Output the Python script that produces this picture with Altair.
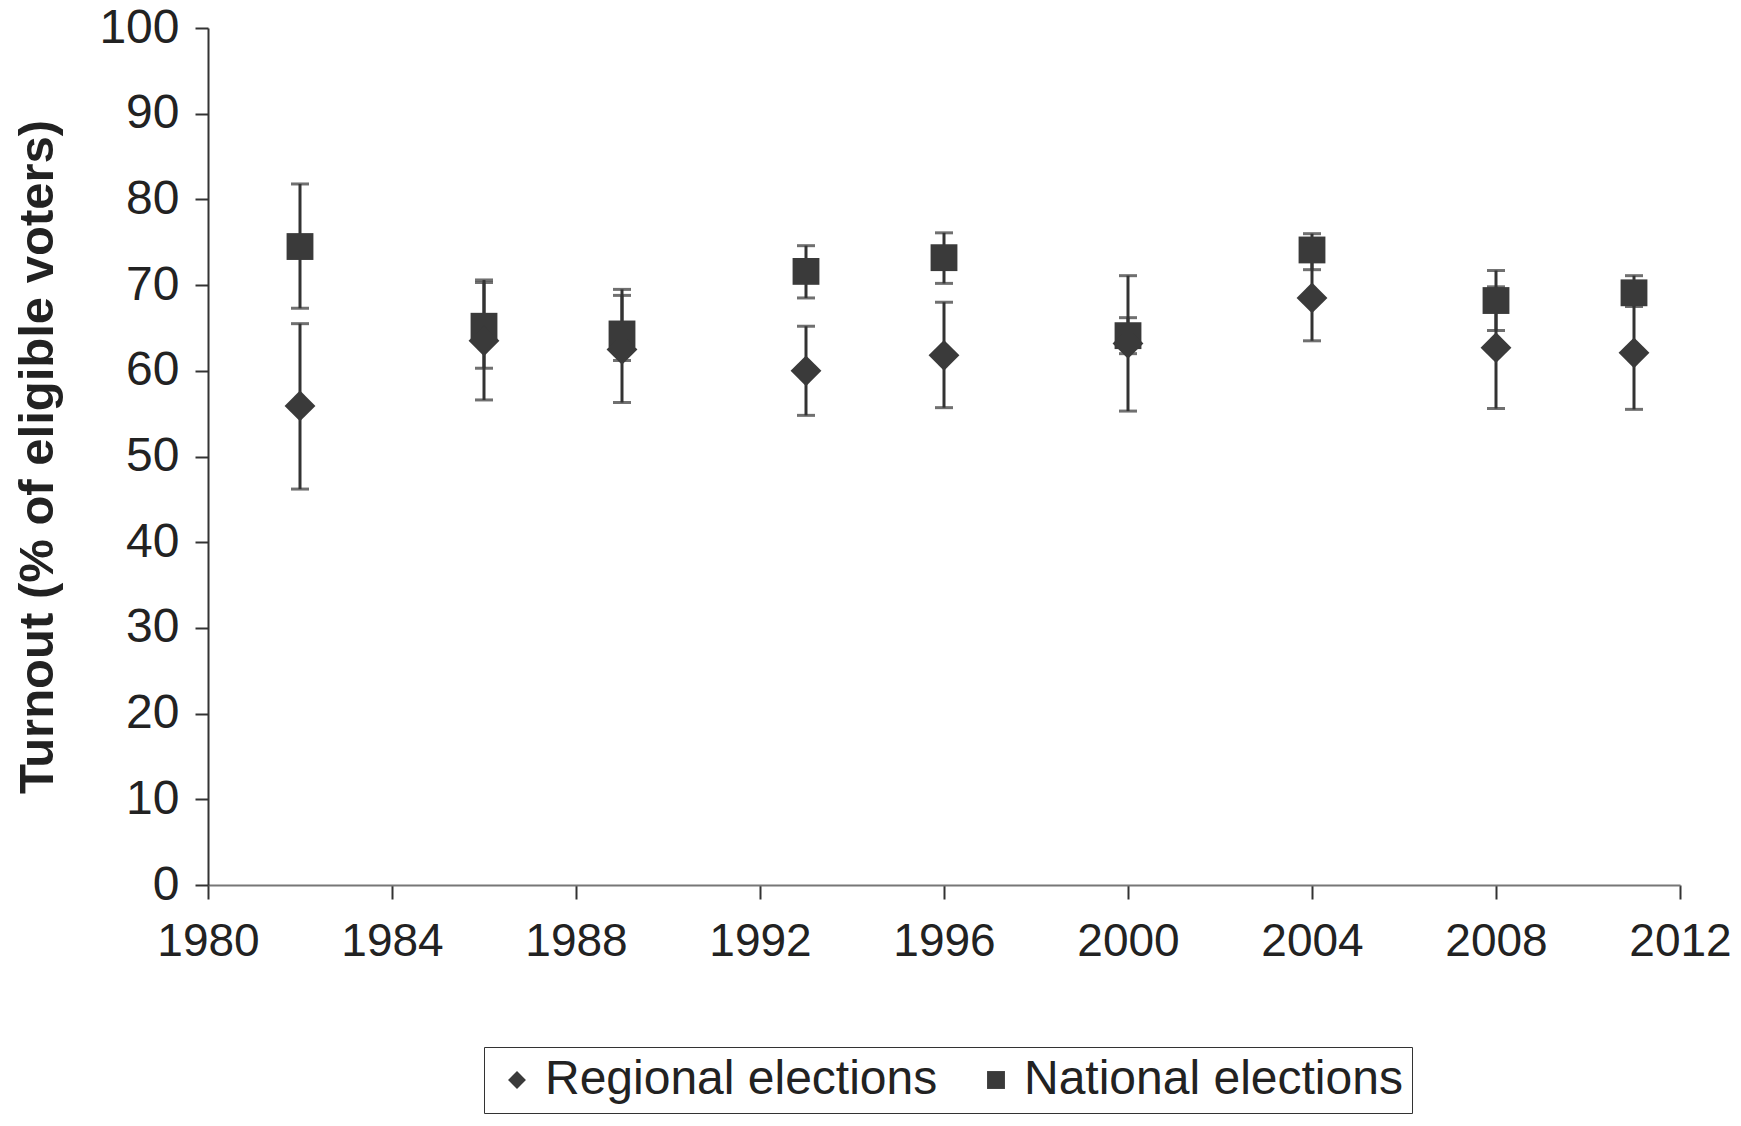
import altair as alt
import pandas as pd

years = [1982, 1986, 1989, 1993, 1996, 2000, 2004, 2008, 2011]

regional = [55.9, 63.5, 62.5, 60.0, 61.8, 63.2, 68.5, 62.7, 62.1]
regional_low = [46.2, 56.6, 56.3, 54.8, 55.7, 55.3, 63.5, 55.6, 55.5]
regional_high = [65.5, 70.3, 68.8, 65.2, 68.0, 71.1, 73.5, 69.8, 68.7]

national = [74.5, 65.2, 64.3, 71.6, 73.2, 64.1, 74.1, 68.2, 69.1]
national_low = [67.3, 60.3, 61.2, 68.5, 70.2, 62.0, 71.8, 64.7, 67.5]
national_high = [81.8, 70.6, 69.5, 74.6, 76.1, 66.2, 76.0, 71.7, 71.1]

series = ["Regional elections", "National elections"]
x_ticks = [1980, 1984, 1988, 1992, 1996, 2000, 2004, 2008, 2012]
y_ticks = [0, 10, 20, 30, 40, 50, 60, 70, 80, 90, 100]

rows = []
for i, yr in enumerate(years):
    rows.append({"year": yr, "series": series[0], "value": regional[i],
                 "low": regional_low[i], "high": regional_high[i]})
    rows.append({"year": yr, "series": series[1], "value": national[i],
                 "low": national_low[i], "high": national_high[i]})
df = pd.DataFrame(rows)

INK = "#333333"
FONT = "Liberation Sans"

x_enc = alt.X("year:Q",
              scale=alt.Scale(domain=[1980, 2012], nice=False, zero=False),
              axis=alt.Axis(values=x_ticks, format="d", title=None, grid=False,
                            labelFontSize=46, labelFont=FONT, labelColor="#222222",
                            labelPadding=20, tickSize=14, tickWidth=2, tickColor=INK,
                            domainColor="#777777", domainWidth=2, labelFlush=False))

y_scale = alt.Scale(domain=[0, 100], nice=False)
y_axis = alt.Axis(values=y_ticks, title="Turnout (% of eligible voters)", grid=False,
                  labelFontSize=48, labelFont=FONT, labelColor="#222222",
                  labelPadding=16, tickSize=13, tickWidth=2, tickColor=INK,
                  domainColor=INK, domainWidth=2,
                  titleFont=FONT, titleFontSize=49, titleFontWeight="bold",
                  titleColor="#222222", titlePadding=36)

base = alt.Chart(df)

rules = base.mark_rule(color=INK, strokeWidth=3).encode(
    x=x_enc,
    y=alt.Y("low:Q", scale=y_scale, axis=y_axis),
    y2="high:Q",
)

caps_low = base.mark_tick(orient="horizontal", size=18, thickness=3, color=INK).encode(
    x="year:Q", y=alt.Y("low:Q", scale=y_scale))
caps_high = base.mark_tick(orient="horizontal", size=18, thickness=3, color=INK).encode(
    x="year:Q", y=alt.Y("high:Q", scale=y_scale))

points = base.mark_point(filled=True, size=720, color="#3a3a3a", opacity=1).encode(
    x="year:Q",
    y=alt.Y("value:Q", scale=y_scale),
    shape=alt.Shape("series:N",
                    scale=alt.Scale(domain=series, range=["diamond", "square"]),
                    sort=series,
                    legend=alt.Legend(title=None, orient="none", direction="horizontal",
                                      legendX=276, legendY=1019,
                                      strokeColor="#333333", padding=9,
                                      labelFont=FONT, labelFontSize=48,
                                      labelColor="#222222", labelLimit=800,
                                      symbolSize=320, symbolFillColor="#333333",
                                      symbolStrokeColor="#333333",
                                      labelOffset=4, columnPadding=34,
                                      symbolOffset=0)),
)

# Regional diamonds are drawn a little larger in the reference
big_diamonds = base.transform_filter(
    alt.datum.series == series[0]
).mark_point(filled=True, shape="diamond", size=950, color="#3a3a3a", opacity=1).encode(
    x="year:Q",
    y=alt.Y("value:Q", scale=y_scale),
)

chart = alt.layer(rules, caps_low, caps_high, points, big_diamonds).properties(
    width=1472, height=857,
    autosize=alt.AutoSizeParams(type="none"),
    padding={"left": 200, "top": 20, "right": 53, "bottom": 233},
    background="white",
).configure_view(stroke=None)

chart.save("out.html", embed_options={"renderer": "svg", "actions": False})
